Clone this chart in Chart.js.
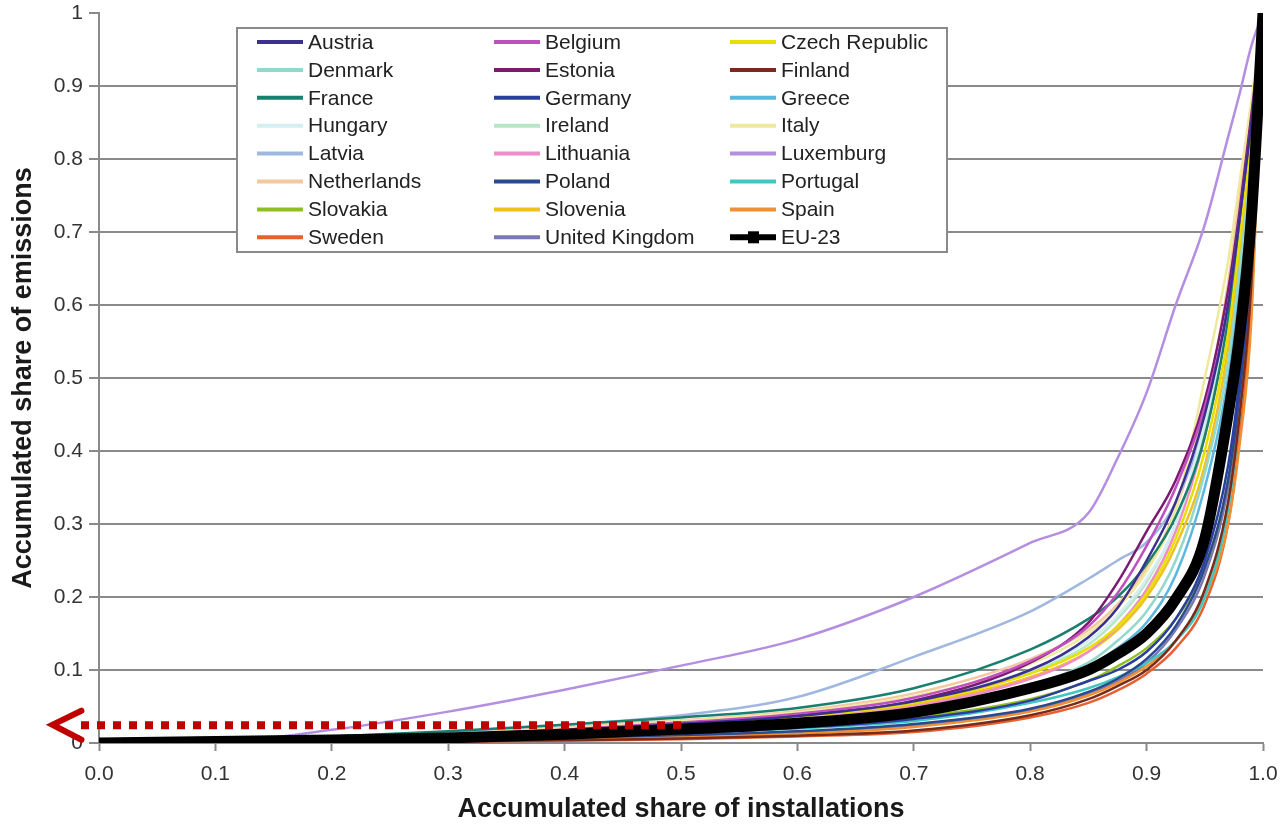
<!DOCTYPE html>
<html lang="en">
<head>
    <meta charset="UTF-8">
    <title>Accumulated share of emissions vs installations</title>
    <style>
        * { box-sizing: border-box; margin: 0; padding: 0; }
        body { background: #fff; font-family: "Liberation Sans", Arial, sans-serif; }
        .wrap { width: 1280px; height: 827px; position: relative; }
    </style>
</head>
<body>
    <div class="wrap">
        <canvas id="lorenzChart"></canvas>
    </div>

    <script src="https://cdn.jsdelivr.net/npm/chart.js"></script>
    <script>
        // accumulated share of installations (x) where each curve was read
        const shareInstall = [0, 0.1, 0.2, 0.3, 0.4, 0.5, 0.6, 0.7, 0.8, 0.85, 0.875, 0.9, 0.925, 0.95, 0.97, 0.98, 0.99, 1.0];

        // accumulated share of emissions per country
        const austria     = [0, 0.002, 0.005, 0.010, 0.017, 0.026, 0.037, 0.057, 0.100, 0.145, 0.185, 0.250, 0.330, 0.450, 0.600, 0.720, 0.850, 1];
        const belgium     = [0, 0.002, 0.006, 0.011, 0.018, 0.028, 0.040, 0.062, 0.112, 0.160, 0.205, 0.270, 0.350, 0.460, 0.600, 0.720, 0.850, 1];
        const czech       = [0, 0.002, 0.005, 0.010, 0.016, 0.025, 0.036, 0.055, 0.095, 0.130, 0.160, 0.205, 0.280, 0.400, 0.560, 0.690, 0.830, 1];
        const denmark     = [0, 0.002, 0.004, 0.008, 0.013, 0.020, 0.030, 0.046, 0.080, 0.110, 0.140, 0.180, 0.250, 0.370, 0.520, 0.650, 0.800, 1];
        const estonia     = [0, 0.002, 0.006, 0.011, 0.018, 0.027, 0.038, 0.058, 0.110, 0.165, 0.220, 0.290, 0.360, 0.470, 0.620, 0.730, 0.860, 1];
        const finland     = [0, 0.000, 0.001, 0.002, 0.004, 0.006, 0.010, 0.017, 0.038, 0.060, 0.078, 0.100, 0.140, 0.210, 0.330, 0.450, 0.630, 1];
        const france      = [0, 0.004, 0.009, 0.016, 0.025, 0.035, 0.048, 0.075, 0.128, 0.170, 0.200, 0.245, 0.310, 0.420, 0.580, 0.700, 0.840, 1];
        const germany     = [0, 0.001, 0.003, 0.005, 0.009, 0.014, 0.021, 0.033, 0.058, 0.085, 0.100, 0.125, 0.170, 0.250, 0.380, 0.500, 0.680, 1];
        const greece      = [0, 0.002, 0.004, 0.007, 0.012, 0.019, 0.028, 0.043, 0.075, 0.105, 0.130, 0.165, 0.230, 0.350, 0.500, 0.630, 0.780, 1];
        const hungary     = [0, 0.002, 0.005, 0.010, 0.017, 0.027, 0.039, 0.060, 0.100, 0.140, 0.175, 0.225, 0.300, 0.440, 0.600, 0.720, 0.850, 1];
        const ireland     = [0, 0.002, 0.005, 0.010, 0.016, 0.025, 0.036, 0.056, 0.098, 0.135, 0.170, 0.220, 0.300, 0.430, 0.590, 0.710, 0.840, 1];
        const italy       = [0, 0.003, 0.007, 0.012, 0.020, 0.030, 0.042, 0.064, 0.108, 0.150, 0.185, 0.235, 0.320, 0.500, 0.660, 0.770, 0.880, 1];
        const latvia      = [0, 0.003, 0.008, 0.015, 0.025, 0.038, 0.063, 0.118, 0.180, 0.225, 0.250, 0.275, 0.330, 0.440, 0.600, 0.720, 0.850, 1];
        const lithuania   = [0, 0.002, 0.005, 0.009, 0.015, 0.023, 0.033, 0.050, 0.088, 0.125, 0.160, 0.210, 0.290, 0.420, 0.580, 0.700, 0.840, 1];
        const luxemburg   = [0, 0.001, 0.018, 0.043, 0.073, 0.106, 0.142, 0.200, 0.274, 0.315, 0.390, 0.480, 0.600, 0.710, 0.830, 0.890, 0.955, 1];
        const netherlands = [0, 0.003, 0.007, 0.013, 0.021, 0.031, 0.044, 0.068, 0.115, 0.155, 0.190, 0.240, 0.320, 0.460, 0.630, 0.750, 0.870, 1];
        const poland      = [0, 0.001, 0.002, 0.004, 0.007, 0.011, 0.016, 0.026, 0.047, 0.070, 0.088, 0.115, 0.160, 0.240, 0.360, 0.480, 0.660, 1];
        const portugal    = [0, 0.001, 0.003, 0.005, 0.008, 0.013, 0.020, 0.030, 0.055, 0.075, 0.090, 0.110, 0.140, 0.200, 0.320, 0.450, 0.640, 1];
        const slovakia    = [0, 0.001, 0.003, 0.005, 0.009, 0.014, 0.022, 0.035, 0.060, 0.085, 0.105, 0.130, 0.170, 0.240, 0.360, 0.480, 0.660, 1];
        const slovenia    = [0, 0.002, 0.005, 0.009, 0.015, 0.024, 0.035, 0.053, 0.090, 0.125, 0.155, 0.200, 0.270, 0.380, 0.540, 0.670, 0.820, 1];
        const spain       = [0, 0.001, 0.002, 0.003, 0.005, 0.008, 0.013, 0.022, 0.043, 0.065, 0.082, 0.105, 0.140, 0.200, 0.300, 0.410, 0.580, 1];
        const sweden      = [0, 0.000, 0.001, 0.002, 0.003, 0.005, 0.009, 0.015, 0.035, 0.055, 0.072, 0.095, 0.130, 0.190, 0.300, 0.420, 0.600, 1];
        const unitedKingdom = [0, 0.001, 0.002, 0.004, 0.006, 0.010, 0.015, 0.024, 0.045, 0.068, 0.085, 0.110, 0.155, 0.230, 0.350, 0.470, 0.650, 1];
        const eu23        = [0, 0.002, 0.004, 0.007, 0.012, 0.019, 0.027, 0.042, 0.075, 0.100, 0.122, 0.150, 0.197, 0.280, 0.450, 0.560, 0.720, 1];

        const seriesNames = ['Austria', 'Belgium', 'Czech Republic', 'Denmark', 'Estonia', 'Finland',
            'France', 'Germany', 'Greece', 'Hungary', 'Ireland', 'Italy', 'Latvia', 'Lithuania',
            'Luxemburg', 'Netherlands', 'Poland', 'Portugal', 'Slovakia', 'Slovenia', 'Spain',
            'Sweden', 'United Kingdom', 'EU-23'];
        const seriesValues = [austria, belgium, czech, denmark, estonia, finland, france, germany,
            greece, hungary, ireland, italy, latvia, lithuania, luxemburg, netherlands, poland,
            portugal, slovakia, slovenia, spain, sweden, unitedKingdom, eu23];
        const seriesColors = ['#3b2f8f', '#c04fc0', '#e6df00', '#92d8cc', '#7a1a70', '#7a2a1a',
            '#1a7f6e', '#2a3ea0', '#5ab8e0', '#d4eef2', '#b8e6c8', '#efe9a0', '#a0b8e0', '#f08cc8',
            '#b48ee0', '#f4c8a0', '#2a4a90', '#40c8c0', '#90c020', '#f0c020', '#f09030',
            '#e86030', '#7a78b0', '#000000'];

        // red dotted arrow (data space)
        const arrowFrom = 0.5, arrowTo = -0.04, arrowLevel = 0.025;

        const datasets = seriesNames.map((name, i) => {
            const isEU = name === 'EU-23';
            return {
                label: name,
                data: shareInstall.map((x, j) => ({ x: x, y: seriesValues[i][j] })),
                borderColor: seriesColors[i],
                backgroundColor: seriesColors[i],
                borderWidth: isEU ? 11 : 2.5,
                pointRadius: 0,
                fill: false,
                cubicInterpolationMode: 'monotone',
                order: isEU ? 0 : 1
            };
        });

        // legend box drawn inside the plot, 3 columns
        const boxLegend = {
            id: 'boxLegend',
            afterDatasetsDraw(chart) {
                const ctx = chart.ctx;
                const a = chart.chartArea;
                const left = a.left + 138, top = a.top + 15;
                const w = 710, h = 224;
                ctx.save();
                ctx.fillStyle = '#fff';
                ctx.fillRect(left, top, w, h);
                ctx.strokeStyle = '#8a8a8a';
                ctx.lineWidth = 2;
                ctx.strokeRect(left, top, w, h);
                ctx.font = '21px "Liberation Sans", Arial, sans-serif';
                ctx.textBaseline = 'middle';
                const colX = [20, 257, 493];
                chart.data.datasets.forEach((ds, i) => {
                    const col = i % 3, row = Math.floor(i / 3);
                    const x = left + colX[col];
                    const y = top + 14 + row * 27.9;
                    ctx.strokeStyle = ds.borderColor;
                    ctx.lineWidth = ds.label === 'EU-23' ? 6 : 4;
                    ctx.beginPath();
                    ctx.moveTo(x, y);
                    ctx.lineTo(x + 46, y);
                    ctx.stroke();
                    if (ds.label === 'EU-23') {
                        ctx.fillStyle = '#000';
                        ctx.fillRect(x + 18, y - 6, 11, 12);
                    }
                    ctx.fillStyle = '#222';
                    ctx.fillText(ds.label, x + 51, y + 1);
                });
                ctx.restore();
            }
        };

        const redArrow = {
            id: 'redArrow',
            afterDraw(chart) {
                const ctx = chart.ctx;
                const xs = chart.scales.x, ys = chart.scales.y;
                const x1 = xs.getPixelForValue(arrowFrom);
                const x0 = xs.getPixelForValue(arrowTo);
                const y = ys.getPixelForValue(arrowLevel);
                ctx.save();
                ctx.fillStyle = '#c00000';
                for (let x = x1 - 8; x > x0 + 14; x -= 16) {
                    ctx.fillRect(x, y - 3.5, 8, 8);
                }
                ctx.strokeStyle = '#c00000';
                ctx.lineWidth = 6;
                ctx.lineCap = 'round';
                ctx.lineJoin = 'miter';
                ctx.beginPath();
                ctx.moveTo(x0 + 29, y - 14);
                ctx.lineTo(x0, y);
                ctx.lineTo(x0 + 29, y + 15);
                ctx.stroke();
                ctx.restore();
            }
        };

        const tickFont = { family: '"Liberation Sans", Arial, sans-serif', size: 21 };
        const titleFont = { family: '"Liberation Sans", Arial, sans-serif', size: 27, weight: 'bold' };

        const ctxLorenz = document.getElementById('lorenzChart').getContext('2d');
        const lorenzChart = new Chart(ctxLorenz, {
            type: 'line',
            data: { datasets: datasets },
            options: {
                responsive: true,
                maintainAspectRatio: false,
                animation: false,
                layout: { padding: { left: 0, top: 13, right: 17, bottom: 0 } },
                plugins: {
                    legend: { display: false },
                    tooltip: { enabled: false }
                },
                scales: {
                    x: {
                        type: 'linear',
                        min: 0,
                        max: 1,
                        afterFit(scale) {
                            scale.height = 84;
                            scale.paddingLeft = 0;
                            scale.paddingRight = 0;
                        },
                        border: { color: '#8a8a8a', width: 2 },
                        grid: { drawOnChartArea: false, drawTicks: true, tickLength: 8, tickColor: '#8a8a8a', tickWidth: 2 },
                        ticks: {
                            stepSize: 0.1,
                            padding: 11,
                            color: '#333',
                            font: tickFont,
                            maxRotation: 0,
                            callback: v => v.toFixed(1)
                        },
                        title: {
                            display: true,
                            text: 'Accumulated share of installations',
                            color: '#1a1a1a',
                            font: titleFont,
                            padding: { top: 0, bottom: 1 }
                        }
                    },
                    y: {
                        min: 0,
                        max: 1,
                        afterFit(scale) {
                            scale.width = 99;
                            scale.paddingTop = 0;
                            scale.paddingBottom = 0;
                        },
                        border: { color: '#8a8a8a', width: 2 },
                        grid: {
                            color: c => (c.tick && c.tick.value >= 1) ? 'rgba(0,0,0,0)' : '#8a8a8a',
                            lineWidth: 2,
                            tickLength: 10,
                            tickColor: '#8a8a8a',
                            tickWidth: 2
                        },
                        ticks: {
                            stepSize: 0.1,
                            padding: 6,
                            color: '#333',
                            font: tickFont,
                            callback: v => Number.isInteger(v) ? String(v) : v.toFixed(1)
                        },
                        title: {
                            display: true,
                            text: 'Accumulated share of emissions',
                            color: '#1a1a1a',
                            font: titleFont,
                            padding: { top: 7, bottom: 0 }
                        }
                    }
                }
            },
            plugins: [boxLegend, redArrow]
        });
    </script>
</body>
</html>
